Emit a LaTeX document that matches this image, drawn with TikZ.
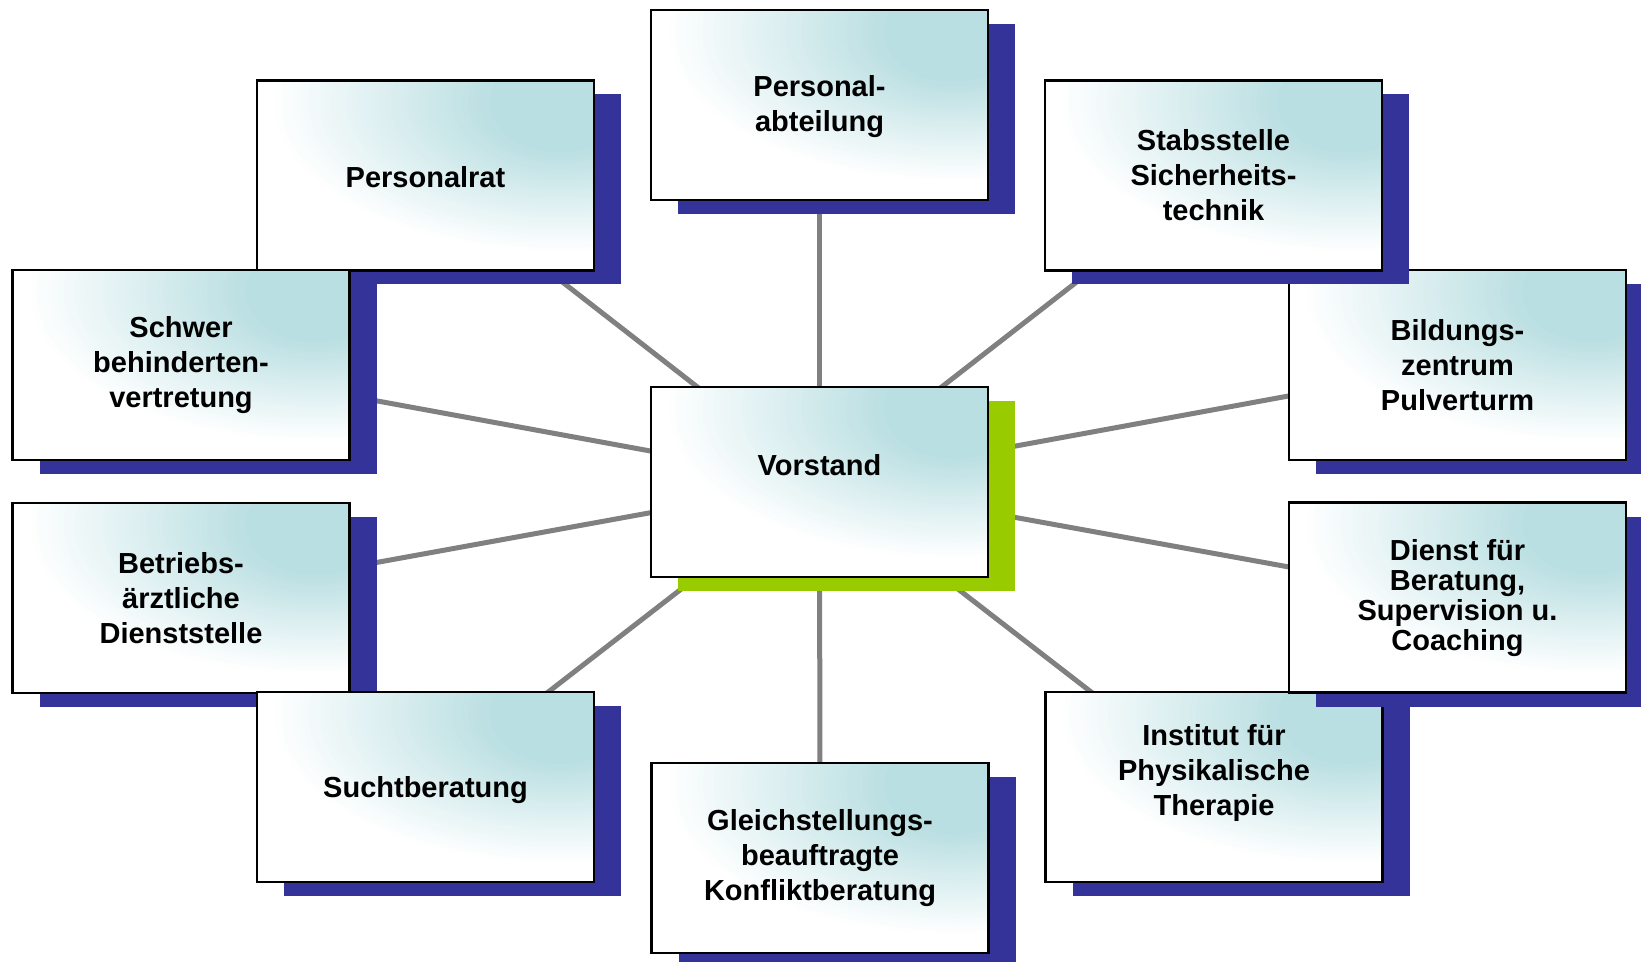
\documentclass[tikz,border=0pt]{standalone}
\usepackage{fontspec}
\setmainfont{Liberation Sans}
\usetikzlibrary{shadows,calc}
\definecolor{boxteal}{RGB}{186,223,226}
\definecolor{shadowblue}{RGB}{51,51,153}
\definecolor{shadowgreen}{RGB}{153,204,0}
\definecolor{conngray}{RGB}{128,128,128}
\pgfdeclarelayer{bg}
\pgfsetlayers{bg,main}
\tikzset{
  orgbox/.style={draw=black, line width=1.4pt, minimum width=168.5pt, minimum height=95pt,
    inner sep=0pt, align=center, font=\fontsize{14.5}{17.5}\selectfont\bfseries, fill=white,
    path picture={
      \path (path picture bounding box.north east) ++(-17pt,-11pt) coordinate (glow);
      \foreach \i in {0,...,40}{
        \pgfmathsetmacro\tt{1-\i/40}
        \pgfmathsetmacro\rx{35+110*\tt}
        \pgfmathsetmacro\ry{25+50*\tt}
        \pgfmathsetmacro\pc{100*(1-\tt)}
        \fill[boxteal!\pc!white] (glow) ellipse [x radius=\rx pt, y radius=\ry pt];
      }
    },
    general shadow={fill=shadowblue, shadow xshift=13.5pt, shadow yshift=-7pt}},
  mainbox/.style={orgbox, general shadow={fill=shadowgreen, shadow xshift=13.5pt, shadow yshift=-7pt}},
  tightbox/.style={orgbox, font=\fontsize{14.5}{15}\selectfont\bfseries},
  conn/.style={draw=conngray, line width=2.5pt}
}
\begin{document}
\begin{tikzpicture}[x=0.5pt, y=-0.5pt]
\useasboundingbox (0,0) rectangle (1641,962);
\clip (0,0) rectangle (1641,962);
% centre column
\node[orgbox] (pa) at (819.5,105) {\raisebox{-1.2pt}[\height][\depth]{\begin{tabular}{@{}c@{}}Personal-\\abteilung\end{tabular}}};
\node[mainbox] (vs) at (819.5,482) {\raisebox{8.5pt}[\height][\depth]{Vorstand}};
\node[orgbox] (gb) at (820,858) {Gleichstellungs-\\beauftragte\\Konfliktberatung};
% left column (lower boxes over upper shadows)
\node[orgbox] (pr) at (425.5,175.5) {\raisebox{-1pt}[\height][\depth]{Personalrat}};
\node[orgbox] (sb) at (181,365) {Schwer\\behinderten-\\vertretung};
\node[orgbox] (ba) at (181,598) {Betriebs-\\ärztliche\\Dienststelle};
\node[orgbox] (su) at (425.5,787) {\raisebox{-1.5pt}[\height][\depth]{Suchtberatung}};
% right column (upper boxes over lower ones)
\node[orgbox] (ip) at (1214,787) {\raisebox{7pt}[\height][\depth]{\begin{tabular}{@{}c@{}}Institut für\\Physikalische\\Therapie\end{tabular}}};
\node[tightbox] (di) at (1457.5,597.5) {\raisebox{-1pt}[\height][\depth]{\begin{tabular}{@{}c@{}}Dienst für\\Beratung,\\Supervision u.\\Coaching\end{tabular}}};
\node[orgbox] (bz) at (1457.5,365) {Bildungs-\\zentrum\\Pulverturm};
\node[orgbox] (st) at (1213.5,175.5) {Stabsstelle\\Sicherheits-\\technik};
% connectors
\begin{pgfonlayer}{bg}
\foreach \n in {pa,pr,st,sb,bz,ba,di,su,ip,gb}
  \draw[conn] (vs.center) -- (\n.center);
\end{pgfonlayer}
\end{tikzpicture}
\end{document}
